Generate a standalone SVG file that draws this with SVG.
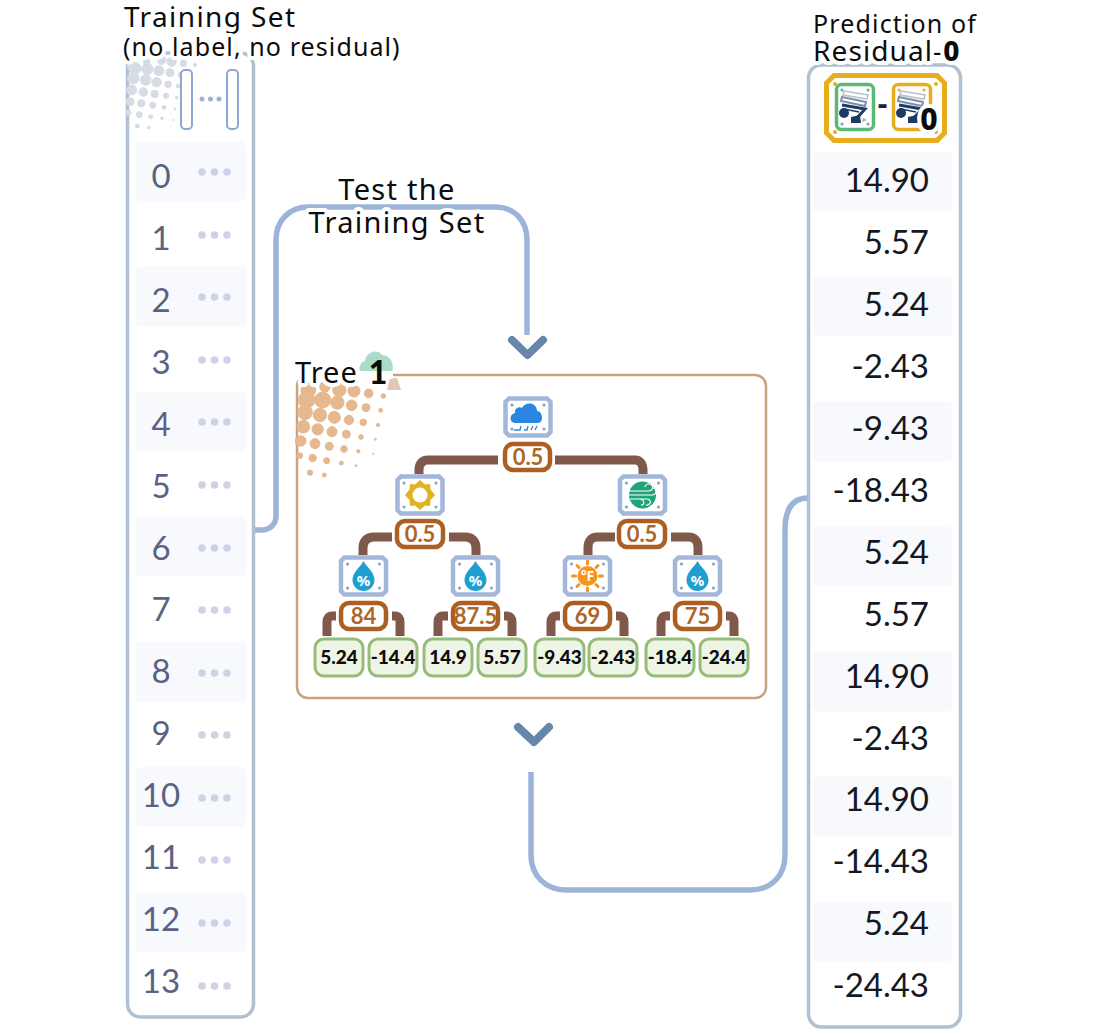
<svg xmlns="http://www.w3.org/2000/svg" xmlns:xlink="http://www.w3.org/1999/xlink" width="1100" height="1030" viewBox="0 0 1100 1030">
<style>
.panel{fill:#fff;stroke:#b1c1d1;stroke-width:3.500}
.row{fill:#f7f9fd}
.idx{font:400 33px Lato,sans-serif;fill:#5a6283;text-anchor:middle}
.val{font:400 33px Lato,sans-serif;fill:#15181f;text-anchor:end}
.h{font-family:"Noto Sans",sans-serif;fill:#0c0c0c;paint-order:stroke;stroke:#fff;stroke-width:8px;stroke-linejoin:round}
.e{fill:#ccd3e4}
.conn{fill:none;stroke:#9cb4d8;stroke-width:5.500}
.chev{fill:none;stroke:#6487aa;stroke-width:8;stroke-linecap:round;stroke-linejoin:round}
.br{fill:none;stroke:#80594a;stroke-width:9}
.box{fill:#fff;stroke:#a3b7da;stroke-width:4.500}
.bd{fill:#8a9fd0}
.th rect{fill:#fff;stroke:#ac5f22;stroke-width:4.500}
.th text{font:700 22px Lato,sans-serif;fill:#ad6528;text-anchor:middle}
.lf rect{fill:#eef5e6;stroke:#97bb79;stroke-width:3}
.lf text{font:900 19px Lato,sans-serif;fill:#0c0c0c;text-anchor:middle}
.pc{font:700 15px "Noto Sans",sans-serif;fill:#fff;text-anchor:middle}
</style>
<defs>
<g id="box"><path class="box" d="M-19-18.500H19L22.500-15V15L19 18.500H-19L-22.500 15V-15Z"/><circle class="bd" cx="-16" cy="-12" r="1.600"/><circle class="bd" cx="16" cy="-12" r="1.600"/><circle class="bd" cx="-16" cy="12" r="1.600"/><circle class="bd" cx="16" cy="12" r="1.600"/></g>
<g id="drop"><use href="#box"/><path fill="#1f9fcf" d="M0-15C3-9 11-4 11 4A11 11 0 0 1-11 4C-11-4-3-9 0-15Z"/><text class="pc" x="0" y="10">%</text></g>
<g id="mdl"><path fill="none" stroke="#bcc3cd" stroke-width="1.600" d="M-11-15L13-11 12-7-12-11Z"/><path fill="none" stroke="#7e8fab" stroke-width="2" d="M-13-9L11-4 10 0-14-5Z"/><path fill="none" stroke="#1d3a63" stroke-width="3" d="M-13-1L10 3 0 14"/><path fill="none" stroke="#1d3a63" stroke-width="1.500" d="M-11 3L4 6"/><circle cx="-11" cy="7" r="5" fill="#1d3a63"/><path fill="#1d3a63" d="M-4 11L5 9 6 17-4 17Z"/><path fill="#9fb0c6" d="M8 12L12 14 7 16Z"/></g>
<g id="ells"><circle class="e" cx="202" r="3.800"/><circle class="e" cx="214.500" r="3.800"/><circle class="e" cx="227" r="3.800"/></g>
</defs>

<g id="training-set">
<rect class="panel" x="127.500" y="53" width="126" height="964" rx="13"/>
<g transform="translate(110 0) scale(.3333)" fill="#d6dce4" stroke="#d6dce4" stroke-width="3">
<circle cx="60" cy="200" r="8"/><circle cx="110" cy="185" r="10"/><circle cx="155" cy="180" r="13"/><circle cx="185" cy="185" r="14"/><circle cx="220" cy="190" r="10"/><circle cx="255" cy="195" r="5"/>
<circle cx="75" cy="205" r="18"/><circle cx="112" cy="207" r="17"/><circle cx="147" cy="212" r="15"/><circle cx="180" cy="218" r="12"/><circle cx="212" cy="225" r="8"/>
<circle cx="70" cy="235" r="17"/><circle cx="107" cy="240" r="16"/><circle cx="140" cy="247" r="14"/><circle cx="174" cy="253" r="10"/><circle cx="205" cy="258" r="6"/>
<circle cx="65" cy="270" r="15"/><circle cx="100" cy="276" r="13"/><circle cx="134" cy="282" r="11"/><circle cx="168" cy="287" r="8"/><circle cx="200" cy="293" r="4"/>
<circle cx="60" cy="305" r="12"/><circle cx="94" cy="310" r="11"/><circle cx="128" cy="316" r="9"/><circle cx="162" cy="322" r="6"/><circle cx="195" cy="327" r="3"/>
<circle cx="55" cy="338" r="8"/><circle cx="88" cy="344" r="9"/><circle cx="122" cy="350" r="6"/><circle cx="156" cy="355" r="4"/><circle cx="190" cy="360" r="2"/>
<circle cx="82" cy="378" r="6"/><circle cx="116" cy="383" r="4"/>
</g>
<g fill="#fff" stroke="#8fa6cf" stroke-width="2"><rect x="181" y="70" width="11" height="59" rx="4"/><rect x="227" y="70" width="11" height="59" rx="4"/></g>
<g fill="#9db2d4"><circle cx="202" cy="99" r="2.500"/><circle cx="210.500" cy="99" r="2.500"/><circle cx="219" cy="99" r="2.500"/></g>
<rect class="row" x="135.500" y="141.500" width="111" height="60" rx="5"/><rect class="row" x="135.500" y="266.500" width="111" height="60" rx="5"/><rect class="row" x="135.500" y="391.500" width="111" height="60" rx="5"/><rect class="row" x="135.500" y="516.500" width="111" height="60" rx="5"/><rect class="row" x="135.500" y="642" width="111" height="60" rx="5"/><rect class="row" x="135.500" y="767" width="111" height="60" rx="5"/><rect class="row" x="135.500" y="892.500" width="111" height="60" rx="5"/>
<text class="idx" x="161" y="188">0</text><text class="idx" x="161" y="250">1</text><text class="idx" x="161" y="312">2</text><text class="idx" x="161" y="374">3</text><text class="idx" x="161" y="436">4</text><text class="idx" x="161" y="498">5</text><text class="idx" x="161" y="560">6</text><text class="idx" x="161" y="621">7</text><text class="idx" x="161" y="683">8</text><text class="idx" x="161" y="745">9</text><text class="idx" x="161" y="807">10</text><text class="idx" x="161" y="869">11</text><text class="idx" x="161" y="931">12</text><text class="idx" x="161" y="993">13</text>
<use href="#ells" y="172"/><use href="#ells" y="235"/><use href="#ells" y="297"/><use href="#ells" y="360"/><use href="#ells" y="422"/><use href="#ells" y="485"/><use href="#ells" y="548"/><use href="#ells" y="610"/><use href="#ells" y="673"/><use href="#ells" y="735"/><use href="#ells" y="798"/><use href="#ells" y="860"/><use href="#ells" y="923"/><use href="#ells" y="986"/>
<text class="h" x="124" y="27" font-size="28" letter-spacing="1.400">Training Set</text>
<text class="h" x="123" y="56" font-size="25" letter-spacing="1.100">(no label, no residual)</text>
</g>

<g id="prediction">
<rect class="panel" x="808.500" y="65" width="152" height="962" rx="13"/>
<rect class="row" x="812.500" y="151.500" width="140" height="60" rx="5"/><rect class="row" x="812.500" y="276.500" width="140" height="60" rx="5"/><rect class="row" x="812.500" y="401.500" width="140" height="60" rx="5"/><rect class="row" x="812.500" y="526.500" width="140" height="60" rx="5"/><rect class="row" x="812.500" y="651.500" width="140" height="60" rx="5"/><rect class="row" x="812.500" y="776.500" width="140" height="60" rx="5"/><rect class="row" x="812.500" y="901.500" width="140" height="60" rx="5"/>
<text class="val" x="929" y="192">14.90</text><text class="val" x="929" y="254">5.57</text><text class="val" x="929" y="316">5.24</text><text class="val" x="929" y="378">-2.43</text><text class="val" x="929" y="440">-9.43</text><text class="val" x="929" y="502">-18.43</text><text class="val" x="929" y="564">5.24</text><text class="val" x="929" y="626">5.57</text><text class="val" x="929" y="688">14.90</text><text class="val" x="929" y="750">-2.43</text><text class="val" x="929" y="811">14.90</text><text class="val" x="929" y="873">-14.43</text><text class="val" x="929" y="935">5.24</text><text class="val" x="929" y="997">-24.43</text>
<path fill="#fff" stroke="#e6ae1f" stroke-width="5" d="M834 75.500H937L944.500 83V133L937 140.500H834L826.500 133V83Z"/>
<g fill="#e6ae1f"><circle cx="835" cy="84" r="2"/><circle cx="936" cy="84" r="2"/><circle cx="835" cy="132" r="2"/><circle cx="936" cy="132" r="2"/></g>
<rect x="836.500" y="84.500" width="37" height="45" rx="5" fill="#fff" stroke="#5cb87a" stroke-width="3.500"/>
<g fill="#5cb87a"><circle cx="842" cy="90" r="1.500"/><circle cx="868" cy="90" r="1.500"/><circle cx="842" cy="124" r="1.500"/><circle cx="868" cy="124" r="1.500"/></g>
<use href="#mdl" x="855" y="106"/>
<rect x="893.500" y="84.500" width="37" height="45" rx="5" fill="#fff" stroke="#e6ae1f" stroke-width="3.500"/>
<g fill="#e6ae1f"><circle cx="899" cy="90" r="1.500"/><circle cx="924" cy="90" r="1.500"/></g>
<use href="#mdl" x="912" y="106"/>
<text x="882.500" y="114" font-family="Noto Sans,sans-serif" font-weight="700" font-size="30" fill="#15233c" text-anchor="middle">-</text>
<text class="h" x="929" y="130" font-size="30" font-weight="800" text-anchor="middle">0</text>
<text class="h" x="813" y="33" font-size="25" letter-spacing="1.150">Prediction of</text>
<text class="h" x="813" y="61" font-size="28" letter-spacing="1.100">Residual-<tspan font-weight="800">0</tspan></text>
</g>

<g id="connectors">
<path class="conn" d="M255 530H262C270 530 276 524 276 516V240C276 220 290 207 308 207H495C514 207 527 220 527 240V335"/>
<path class="conn" d="M531 772V855C531 876 546 890 566 890H750C771 890 785 876 785 855V530C785 510 792 498 808 498"/>
<polyline class="chev" points="512,340 527.500,355 543,340"/>
<polyline class="chev" points="518,727 534,742 549,727"/>
<text class="h" x="397" y="200" font-size="29" letter-spacing="1.300" text-anchor="middle">Test the</text>
<text class="h" x="397" y="233" font-size="29" letter-spacing="1.300" text-anchor="middle">Training Set</text>
</g>

<g id="tree">
<rect x="297" y="375" width="469" height="323" rx="11" fill="#fff" stroke="#c9a27e" stroke-width="2.500"/>
<g transform="translate(285 340) scale(.3333)" fill="#e5b88f" stroke="#e5b88f" stroke-width="3">
<circle cx="70" cy="150" r="22"/><circle cx="120" cy="140" r="16"/><circle cx="163" cy="150" r="20"/><circle cx="207" cy="153" r="18"/><circle cx="251" cy="160" r="13"/><circle cx="295" cy="168" r="7"/>
<circle cx="65" cy="180" r="25"/><circle cx="113" cy="180" r="24"/><circle cx="157" cy="188" r="20"/><circle cx="200" cy="196" r="16"/><circle cx="243" cy="203" r="12"/><circle cx="287" cy="211" r="6"/>
<circle cx="60" cy="217" r="22"/><circle cx="105" cy="225" r="20"/><circle cx="148" cy="232" r="18"/><circle cx="192" cy="240" r="14"/><circle cx="235" cy="247" r="10"/><circle cx="279" cy="255" r="5"/>
<circle cx="55" cy="260" r="19"/><circle cx="98" cy="268" r="17"/><circle cx="141" cy="275" r="15"/><circle cx="184" cy="283" r="12"/><circle cx="228" cy="291" r="7"/><circle cx="271" cy="298" r="3"/>
<circle cx="47" cy="303" r="16"/><circle cx="90" cy="311" r="15"/><circle cx="133" cy="319" r="12"/><circle cx="177" cy="327" r="10"/><circle cx="220" cy="334" r="5"/><circle cx="265" cy="342" r="2"/>
<circle cx="44" cy="347" r="9"/><circle cx="83" cy="354" r="11"/><circle cx="125" cy="362" r="9"/><circle cx="169" cy="369" r="6"/><circle cx="213" cy="377" r="3"/>
<circle cx="75" cy="398" r="8"/><circle cx="118" cy="405" r="6"/>
</g>
<path fill="#a9dccb" d="M363 378C357 372 359 362 365 361C366 352 378 348 382 355C390 355 395 364 392 372L388 376Z"/>
<polygon fill="#e2c7b2" points="390,378 397,378 401,390 387,390"/>
<path fill="none" stroke="#fff" stroke-width="8" d="M296 375H393"/>
<text class="h" x="295" y="383" font-size="29" letter-spacing="1">Tree</text>
<text x="378" y="384" font-family="Lato,sans-serif" font-weight="900" font-size="32" fill="#0c0c0c" text-anchor="middle">1</text>
</g>

<g id="branches">
<path class="br" d="M498 460H428C422 460 419 464 419 470V474"/>
<path class="br" d="M555 460H635C640 460 643 464 643 470V474"/>
<path class="br" d="M392 537H374C367 537 363 541 363 548V555"/>
<path class="br" d="M449 537H465C472 537 476 541 476 548V555"/>
<path class="br" d="M615 537H598C591 537 588 541 588 548V555"/>
<path class="br" d="M671 537H688C695 537 698 541 698 548V555"/>
<path class="br" d="M336 616H332C329 616 327 618 327 622V636"/>
<path class="br" d="M392 616H395C398 616 400 618 400 622V636"/>
<path class="br" d="M448 616H443C440 616 438 618 438 622V636"/>
<path class="br" d="M504 616H507C510 616 512 618 512 622V636"/>
<path class="br" d="M560 616H556C553 616 551 618 551 622V636"/>
<path class="br" d="M616 616H619C622 616 624 618 624 622V636"/>
<path class="br" d="M670 616H666C663 616 661 618 661 622V636"/>
<path class="br" d="M726 616H729C732 616 734 618 734 622V636"/>
</g>

<g id="node-root"><use href="#box" x="528" y="417"/>
<path fill="#2a86e0" d="M515 423C509 423 509 414 515 413C514 408 520 406 522 408C525 401 537 402 537 411C543 411 544 423 538 423Z"/>
<path fill="none" stroke="#2a86e0" stroke-width="1.300" d="M514 430H520L521 426M524 430H527L528 426M533 426L531 430M537 426L535 430"/></g>
<g id="split-root" class="th"><rect x="505" y="444" width="45" height="26" rx="8"/><text x="528" y="465">0.5</text></g>

<g id="node-sun"><use href="#box" x="420" y="495"/>
<polygon fill="#e0b323" points="420,480 425,484.500 430,484 430.500,489.500 435,495 430.500,500 430,506 425,505.500 420,510 415,505.500 410,506 409.500,500 405,495 409.500,489.500 410,484 415,484.500"/><circle cx="420" cy="495" r="7.500" fill="#fff"/></g>
<g id="split-sun" class="th"><rect x="397" y="521" width="46" height="26" rx="8"/><text x="420" y="542">0.5</text></g>

<g id="node-wind"><use href="#box" x="642.500" y="495"/>
<circle cx="642.500" cy="495" r="13.500" fill="#1fa37a"/>
<path fill="none" stroke="#fff" stroke-width="1.200" d="M629 491H648C654 491 654 484 649 484C646 484 645 486 645 487M629 495H652C657 495 657 488 653 488M630 499H647C652 499 651 506 646 505M640 499C645 500 645 505 641 505"/></g>
<g id="split-wind" class="th"><rect x="619" y="521" width="46" height="26" rx="8"/><text x="642" y="542">0.5</text></g>

<g id="node-h1"><use href="#drop" x="363.500" y="576"/></g>
<g id="split-h1" class="th"><rect x="341" y="603" width="45" height="26" rx="8"/><text x="363.500" y="624">84</text></g>
<g id="node-h2"><use href="#drop" x="475.500" y="576"/></g>
<g id="split-h2" class="th"><rect x="453" y="603" width="45" height="26" rx="8"/><text x="475.500" y="624">87.5</text></g>
<g id="node-temp"><use href="#box" x="587.500" y="576"/>
<path stroke="#f7941d" stroke-width="3" stroke-linecap="round" fill="none" d="M587.500 561V564M587.500 588V591M572.500 576H575.500M599.500 576H602.500M577 565.500L579 567.500M598 565.500L596 567.500M577 586.500L579 584.500M598 586.500L596 584.500"/>
<circle cx="587.500" cy="576" r="10" fill="#f7941d"/><text class="pc" x="587.500" y="581" style="font-size:14px">°F</text></g>
<g id="split-temp" class="th"><rect x="565" y="603" width="45" height="26" rx="8"/><text x="587.500" y="624">69</text></g>
<g id="node-h3"><use href="#drop" x="697.500" y="576"/></g>
<g id="split-h3" class="th"><rect x="675" y="603" width="45" height="26" rx="8"/><text x="697.500" y="624">75</text></g>

<g id="leaf-1" class="lf"><rect x="315" y="639" width="48" height="37" rx="9"/><text x="339" y="664">5.24</text></g>
<g id="leaf-2" class="lf"><rect x="369" y="639" width="48" height="37" rx="9"/><text x="393" y="664">-14.4</text></g>
<g id="leaf-3" class="lf"><rect x="424" y="639" width="48" height="37" rx="9"/><text x="448" y="664">14.9</text></g>
<g id="leaf-4" class="lf"><rect x="478" y="639" width="48" height="37" rx="9"/><text x="502" y="664">5.57</text></g>
<g id="leaf-5" class="lf"><rect x="535" y="639" width="49" height="37" rx="9"/><text x="559.500" y="664">-9.43</text></g>
<g id="leaf-6" class="lf"><rect x="589" y="639" width="48" height="37" rx="9"/><text x="613" y="664">-2.43</text></g>
<g id="leaf-7" class="lf"><rect x="646" y="639" width="48" height="37" rx="9"/><text x="670" y="664">-18.4</text></g>
<g id="leaf-8" class="lf"><rect x="700" y="639" width="48" height="37" rx="9"/><text x="724" y="664">-24.4</text></g>
</svg>
